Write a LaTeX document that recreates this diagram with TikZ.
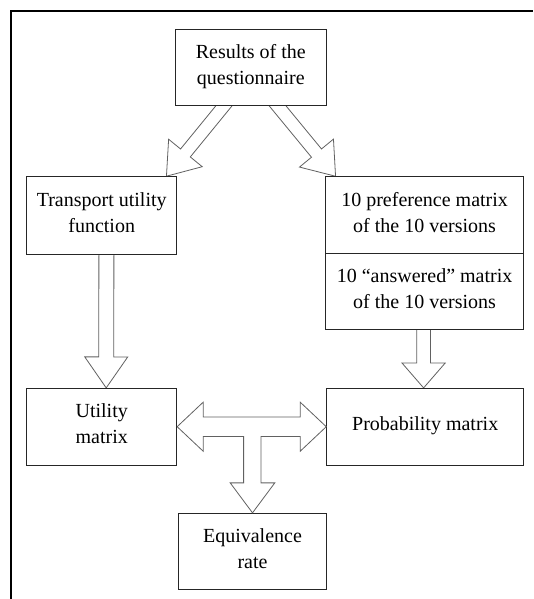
\documentclass[tikz,border=0pt]{standalone}
\usepackage{fontspec}
\setmainfont{Liberation Serif}
\usetikzlibrary{calc,backgrounds}
\newcommand\sst{\rule[-8pt]{0pt}{24pt}}
\newcommand\blockarr[5]{%
  \path ($(#1)!-12pt!(#2)$) coordinate (bas);
  \path ($(#2)!#5!(#1)$) coordinate (bab);
  \draw[barrow] ($(bas)!#3!90:(#2)$) -- ($(bab)!#3!-90:(bas)$) -- ($(bab)!#4!-90:(bas)$) -- (#2)
    -- ($(bab)!#4!90:(bas)$) -- ($(bab)!#3!90:(bas)$) -- ($(bas)!#3!-90:(#2)$) -- cycle;}
\tikzset{
  box/.style={draw=black!85, line width=0.9pt, fill=white, inner sep=0pt, align=center,
    font=\fontsize{20}{26}\selectfont},
  barrow/.style={draw=black!62, line width=0.8pt, fill=white, line join=miter},
  frameline/.style={draw=black, line width=2pt}
}
\begin{document}
\begin{tikzpicture}[x=1pt,y=-1pt]
\useasboundingbox (0,0) rectangle (533,599);
\draw[frameline] (10.7,599) -- (10.7,10.7) -- (533,10.7);

\node[box, minimum width=150.3pt, minimum height=76pt] (res) at (250.8,67.3) {\sst Results of the\\questionnaire\sst};
\node[box, minimum width=150pt, minimum height=77.3pt] (trn) at (101.7,215.3) {\sst Transport utility\\function\sst};
\node[box, minimum width=198.2pt, minimum height=76.6pt] (pref) at (424.6,215) {\sst 10 preference matrix\\of the 10 versions\sst};
\node[box, minimum width=198.2pt, minimum height=76pt] (ans) at (424.6,291.3) {\sst 10 “answered” matrix\\of the 10 versions\sst};
\node[box, minimum width=150pt, minimum height=76.7pt] (util) at (101.7,426.7) {\sst Utility\\matrix\sst};
\node[box, minimum width=197pt, minimum height=76.7pt] (prob) at (425.2,426.7) {\sst Probability matrix\sst};
\node[box, minimum width=148.4pt, minimum height=76pt] (equiv) at (252.5,551.3) {\sst Equivalence\\rate\sst};

\begin{pgfonlayer}{background}
\coordinate (a1s) at ($(res.south)+(-26.8,0)$);
\coordinate (a1t) at ($(trn.north east)+(-10.7,0)$);
\blockarr{a1s}{a1t}{6.3pt}{21.7pt}{30pt}
\coordinate (a2s) at ($(res.south)+(26.7,0)$);
\coordinate (a2t) at ($(pref.north west)+(10.5,0)$);
\blockarr{a2s}{a2t}{6.5pt}{22pt}{30pt}
\coordinate (a3s) at ($(trn.south)+(4.7,0)$);
\coordinate (a3t) at ($(util.north)+(4.5,0)$);
\blockarr{a3s}{a3t}{7.5pt}{21.5pt}{31pt}
\coordinate (a4s) at ($(ans.south)+(-1,0)$);
\coordinate (a4t) at (a4s |- prob.north);
\blockarr{a4s}{a4t}{6.8pt}{21.7pt}{25pt}
\end{pgfonlayer}

\coordinate (L) at (util.east);
\coordinate (R) at (prob.west);
\coordinate (D) at (equiv.north);
\coordinate (L1) at ($(L)+(26,-24.5)$);
\coordinate (L2) at ($(L)+(26,-9.7)$);
\coordinate (R2) at ($(R)+(-26,-9.7)$);
\coordinate (R1) at ($(R)+(-26,-24.5)$);
\coordinate (R4) at ($(R)+(-26,24.5)$);
\coordinate (R3) at ($(R)+(-26,9.7)$);
\coordinate (L3) at ($(L)+(26,9.7)$);
\coordinate (L4) at ($(L)+(26,24.5)$);
\coordinate (S1) at ($(D)+(8.4,0)$);
\coordinate (S2) at ($(D)+(-8.9,0)$);
\coordinate (T1) at (S1 |- L3);
\coordinate (T2) at (S2 |- L3);
\coordinate (H1) at ($(D)+(8.4,-30)$);
\coordinate (H2) at ($(D)+(22.3,-30)$);
\coordinate (H3) at ($(D)+(-22.3,-30)$);
\coordinate (H4) at ($(D)+(-8.9,-30)$);
\draw[barrow] (L) -- (L1) -- (L2) -- (R2) -- (R1) -- (R) -- (R4) -- (R3) -- (T1) -- (H1) -- (H2)
  -- (D) -- (H3) -- (H4) -- (T2) -- (L3) -- (L4) -- cycle;
\end{tikzpicture}
\end{document}
